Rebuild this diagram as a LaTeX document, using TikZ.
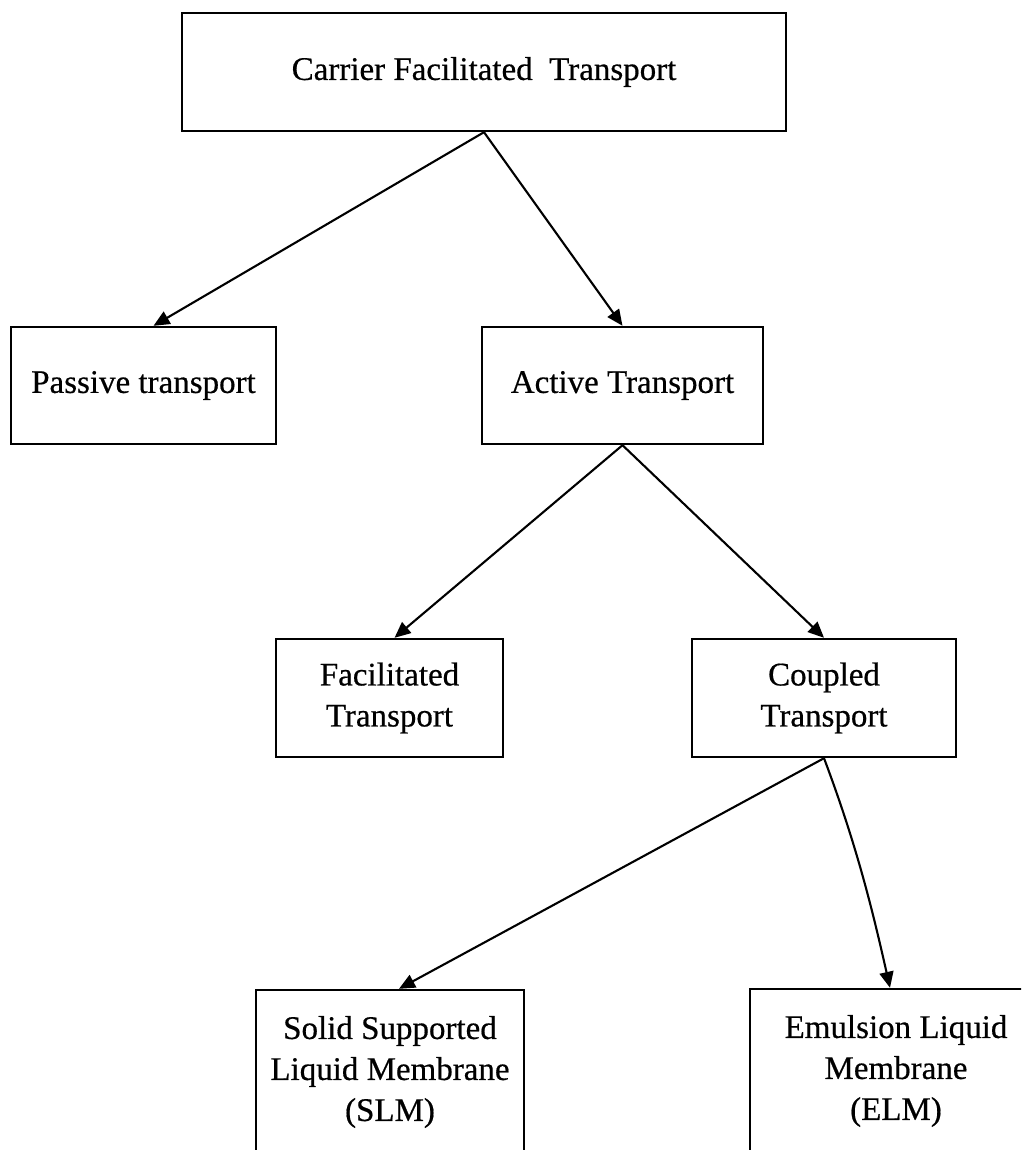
\documentclass[tikz,border=0pt]{standalone}
\usepackage{fontspec}
\setmainfont{Liberation Serif}
\newfontfamily\scanfont{Liberation Serif}[FakeBold=0.5]
\usetikzlibrary{arrows.meta}
\begin{document}
\begin{tikzpicture}[x=1pt,y=-1pt,
  box/.style={draw=black, line width=2.4pt, rectangle, inner sep=0pt, align=center,
    font=\scanfont\fontsize{33}{41}\selectfont},
  arr/.style={draw=black, line width=2.1pt, -{Triangle[length=16pt,width=14pt]}}]
\clip (0,0) rectangle (1021,1150);
\fill[white] (0,0) rectangle (1021,1150);
\node[box, minimum width=604pt, minimum height=118pt] (top) at (484,72) {Carrier Facilitated\ \ Transport};
\node[box, minimum width=265pt, minimum height=117pt] (passive) at (143.5,385.5) {Passive transport};
\node[box, minimum width=281pt, minimum height=117pt] (active) at (622.5,385.5) {Active Transport};
\node[box, minimum width=227pt, minimum height=118pt] (fac) at (389.5,698) {Facilitated\\Transport};
\node[box, minimum width=264pt, minimum height=118pt] (coup) at (824,698) {Coupled\\Transport};
\node[box, minimum width=268pt, minimum height=164pt] (slm) at (390,1072) {Solid Supported\\Liquid Membrane\\(SLM)};
\node[box, minimum width=292pt, minimum height=164pt] (elm) at (896,1071) {Emulsion Liquid\\Membrane\\(ELM)};
\draw[arr] (top.south) -- ([xshift=10pt]passive.north);
\draw[arr] (top.south) -- (active.north);
\draw[arr] (active.south) -- ([xshift=5pt]fac.north);
\draw[arr] (active.south) -- (coup.north);
\draw[arr] (coup.south) -- ([xshift=9pt]slm.north);
\draw[arr] (coup.south) .. controls +(32,85) and +(-18,-80) .. ([xshift=-6pt]elm.north);
\end{tikzpicture}
\end{document}
